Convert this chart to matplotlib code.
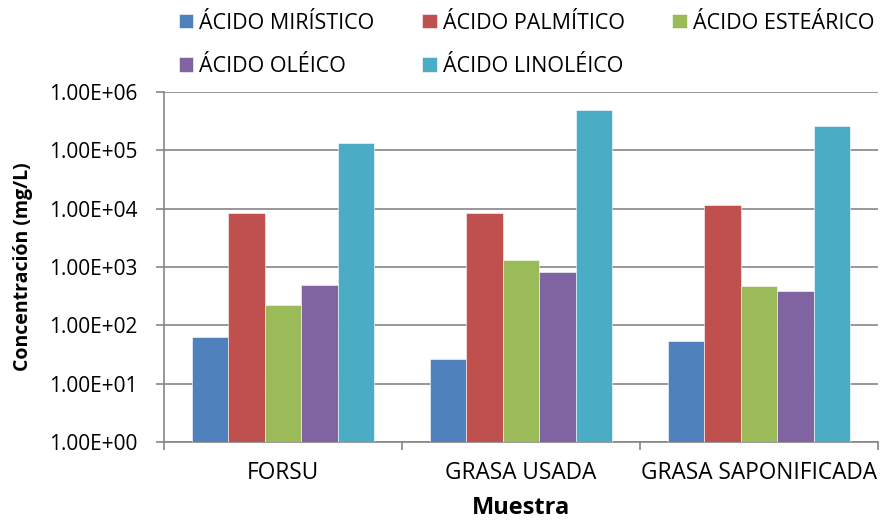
import numpy as np
import matplotlib
matplotlib.use("Agg")
from matplotlib import pyplot as plt
from matplotlib.ticker import FixedLocator, NullLocator

plt.rcParams['font.family'] = ['Open Sans', 'DejaVu Sans']

muestras = ["FORSU", "GRASA USADA", "GRASA SAPONIFICADA"]
acidos = ["ÁCIDO MIRÍSTICO", "ÁCIDO PALMÍTICO", "ÁCIDO ESTEÁRICO",
          "ÁCIDO OLÉICO", "ÁCIDO LINOLÉICO"]
miristico = [62, 26, 53]
palmitico = [8300, 8300, 11500]
estearico = [224, 1320, 468]
oleico = [492, 830, 383]
linoleico = [134000, 500000, 257000]
ytick_labels = ["1.00E+00", "1.00E+01", "1.00E+02", "1.00E+03",
                "1.00E+04", "1.00E+05", "1.00E+06"]

colores = ["#4f81bd", "#c0504d", "#9bbb59", "#8064a2", "#4bacc6"]
series = [miristico, palmitico, estearico, oleico, linoleico]

fig = plt.figure(figsize=(8.84, 5.23), dpi=100)
ax = fig.add_axes([164 / 884, 1 - 442 / 523, (878 - 164) / 884, (442 - 92) / 523])

x = np.arange(len(muestras))
w = 0.765 / len(series)
handles = []
for i, (vals, c, name) in enumerate(zip(series, colores, acidos)):
    b = ax.bar(x + (i - 2) * w, vals, w, bottom=1, color=c, label=name,
               edgecolor="white", linewidth=0.4, zorder=3)
    handles.append(b)

ax.set_yscale("log")
ax.set_ylim(1, 1e6)
ax.set_xlim(-0.5, 2.5)
ax.yaxis.set_major_locator(FixedLocator([10.0 ** k for k in range(7)]))
ax.yaxis.set_minor_locator(NullLocator())
ax.set_yticklabels(ytick_labels, fontsize=15)
ax.grid(axis="y", color="#868686", linewidth=1.2, zorder=0)

# category boundaries as ticks, labels centred on groups
ax.set_xticks([-0.5, 0.5, 1.5, 2.5])
ax.set_xticklabels([])
ax.set_xticks(x, minor=True)
ax.set_xticklabels(muestras, minor=True, fontsize=16.3)
ax.tick_params(axis="x", which="major", length=6, color="#868686", width=1.2)
ax.tick_params(axis="x", which="minor", length=0, pad=14)
ax.tick_params(axis="y", length=6, color="#868686", width=1.2, pad=13)

for s in ["top", "right"]:
    ax.spines[s].set_visible(False)
for s in ["left", "bottom"]:
    ax.spines[s].set_color("#868686")
    ax.spines[s].set_linewidth(1.2)

ax.set_ylabel("Concentración (mg/L)", fontsize=14, fontweight="bold")
ax.yaxis.set_label_coords(-131 / 714, 0.5)
ax.set_xlabel("Muestra", fontsize=17, fontweight="bold")
ax.xaxis.set_label_coords(0.5, -54 / 350)

# row-wise legend order in 3 columns
order = [0, 3, 1, 4, 2]
fig.legend([handles[i] for i in order], [acidos[i] for i in order],
           ncol=3, loc="upper left", bbox_to_anchor=(170 / 884, 1 - 4 / 523),
           borderaxespad=0.0, frameon=False, fontsize=15.5,
           handlelength=0.67, handleheight=0.67, handletextpad=0.3,
           columnspacing=2.2, labelspacing=1.05)

fig.savefig("out.png", dpi=100)
